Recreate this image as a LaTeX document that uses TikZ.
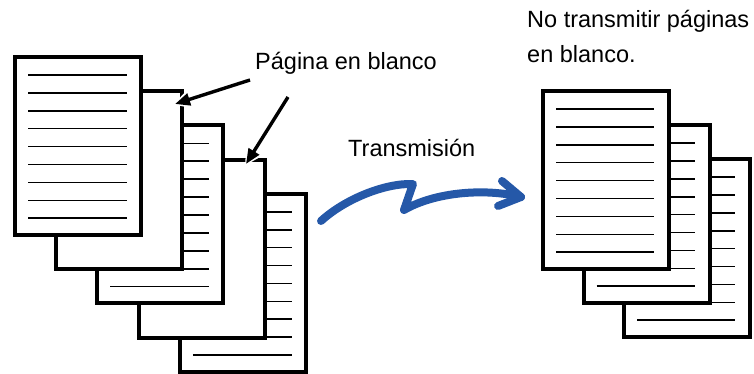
\documentclass[tikz,border=0pt]{standalone}
\usepackage{fontspec}
\setmainfont{Liberation Sans}
\usepackage{tikz}
\usetikzlibrary{arrows.meta,positioning,calc}
\usepackage{xcolor}
\definecolor{sendblue}{RGB}{37,88,168}

\begin{document}
\begin{tikzpicture}[x=1pt, y=-1pt,
    sheet/.style={rectangle, draw, line width=4pt, fill=white, inner sep=0pt, outer sep=0pt,
      minimum width=126pt, minimum height=178pt, anchor=north west},
    rule/.style={line width=1.6pt},
    label/.style={font=\fontsize{23.5}{28}\selectfont, inner sep=0pt, anchor=base west},
    pointer/.style={line width=3.4pt, -{Triangle[length=15pt,width=12pt]}},
    halo/.style={draw=white, line width=8pt, shorten >=-2pt, -{Triangle[length=17pt,width=17pt]}},
    wave/.style={draw=sendblue, line width=8pt, line cap=round, line join=round}]
  \useasboundingbox (0,0) rectangle (754,374);

  % left stack, back to front (odd sheets are blank)
  \foreach \i in {4,3,2,1,0} {
    \node[sheet] (l\i) at (15+41.2*\i, 57+34.2*\i) {};
    \ifodd\i\else
      \foreach \j in {0,...,8}
        \draw[rule] ($(l\i.north west)+(13,18+17.9*\j)$) -- ++(99,0);
    \fi
  }

  % right stack
  \foreach \i in {2,1,0} {
    \node[sheet] (r\i) at (543+40.5*\i, 91+34*\i) {};
    \foreach \j in {0,...,8}
      \draw[rule] ($(r\i.north west)+(13,18+17.9*\j)$) -- ++(98,0);
  }

  \node[label] (blank) at (255,70) {Página en blanco};
  \coordinate (t1) at (250,80);
  \coordinate (h1) at (175,104);
  \coordinate (t2) at (288,97);
  \coordinate (h2) at (246,164);
  \draw[halo] (t1) -- (h1);
  \draw[halo] (t2) -- (h2);
  \draw[pointer] (t1) -- (h1);
  \draw[pointer] (t2) -- (h2);

  \node[label] (send) at (348,157) {Transmisión};
  \coordinate (ws) at (321,221);
  \coordinate (wa) at (413,184);
  \coordinate (wb) at (404,210);
  \coordinate (we) at (521,197);
  \draw[wave] (ws) .. controls (345,199) and (385,183) .. (wa) -- (wb)
    .. controls (435,192) and (485,188) .. (we);
  \draw[wave] (502,181) -- (we) -- (498,206);

  \node[label] (skip1) at (527,28) {No transmitir páginas};
  \node[label] (skip2) at (527,63) {en blanco.};
\end{tikzpicture}
\end{document}
